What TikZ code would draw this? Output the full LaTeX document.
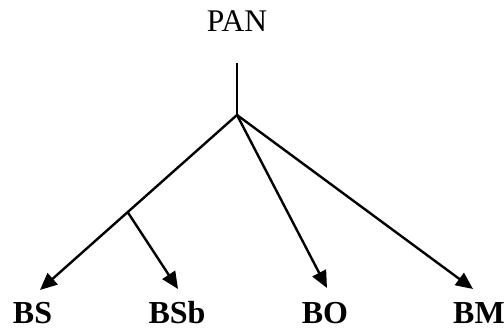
\documentclass[tikz,border=0pt]{standalone}
\usepackage{fontspec}
\setmainfont{Liberation Serif}
\usetikzlibrary{arrows.meta,calc}
\begin{document}
\begin{tikzpicture}[x=1pt,y=-1pt,
  conn/.style={line width=2.4pt},
  arr/.style={conn,-{Triangle[length=17pt,width=15pt]}},
  lbl/.style={font=\fontsize{32}{38}\selectfont\bfseries,anchor=base,inner sep=0pt},
  toplbl/.style={font=\fontsize{31.5}{38}\selectfont,anchor=base,inner sep=0pt}]
\useasboundingbox (0,0) rectangle (504,331);
\node[toplbl] (PAN) at (237,32) {PAN};
\node[lbl] (BS) at (32.5,324) {BS};
\node[lbl] (BSb) at (177,324) {BSb};
\node[lbl] (BO) at (325,324) {BO};
\node[lbl] (BM) at (479,324) {BM};
\coordinate (top) at (237,63);
\coordinate (J) at (237,115);
\coordinate (tBS) at (40,290);
\coordinate (tBSb) at (178,289);
\coordinate (tBO) at (327,288);
\coordinate (tBM) at (473,289);
\coordinate (B) at ($(J)!0.555!(tBS)$);
\draw[conn] (top) -- (J);
\draw[arr] (J) -- (tBS);
\draw[arr] (B) -- (tBSb);
\draw[arr] (J) -- (tBO);
\draw[arr] (J) -- (tBM);
\end{tikzpicture}
\end{document}
